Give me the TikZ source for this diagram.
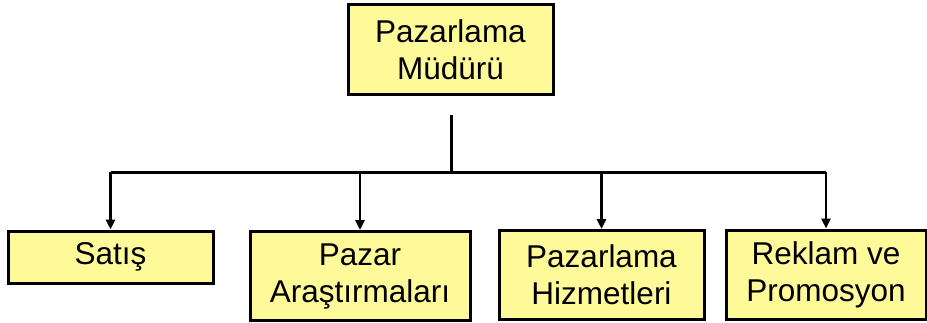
\documentclass[tikz,border=0pt]{standalone}
\usepackage{fontspec}
\setmainfont{Liberation Sans}
\usetikzlibrary{arrows.meta}
\tikzset{
  unit/.style = {draw=black, line width=3pt, fill=yellow!40!white, align=center,
                 inner sep=0pt, font=\fontsize{31.5}{37}\selectfont},
  link/.style = {line width=3pt},
  arr/.style  = {line width=2.5pt, -{Triangle[length=10pt,width=9pt]}}
}
\begin{document}
\begin{tikzpicture}[x=1pt,y=1pt]
  \useasboundingbox (0,0) rectangle (927,322);
  \node[unit, minimum width=205pt, minimum height=90pt] (mudur) at (450.5,272) {Pazarlama\\Müdürü};
  \node[unit, minimum width=205pt, minimum height=52pt] (satis) at (110.5,65)  {Satış};
  \node[unit, minimum width=220pt, minimum height=89pt] (arast) at (360,46)    {Pazar\\Araştırmaları};
  \node[unit, minimum width=205pt, minimum height=89pt] (hizmet) at (601.5,47) {Pazarlama\\Hizmetleri};
  \node[unit, minimum width=200pt, minimum height=89pt] (reklam) at (826,47.5) {Reklam ve\\Promosyon};
  \coordinate (stem) at (451,207);
  \coordinate (bus)  at (451,150);
  \draw[link] (stem) -- (bus);
  \draw[link] (bus -| satis) -- (bus -| reklam);
  \draw[arr] (bus -| satis)  -- (satis.north);
  \draw[arr] (bus -| arast)  -- (arast.north);
  \draw[arr] (bus -| hizmet) -- (hizmet.north);
  \draw[arr] (bus -| reklam) -- (reklam.north);
\end{tikzpicture}
\end{document}
